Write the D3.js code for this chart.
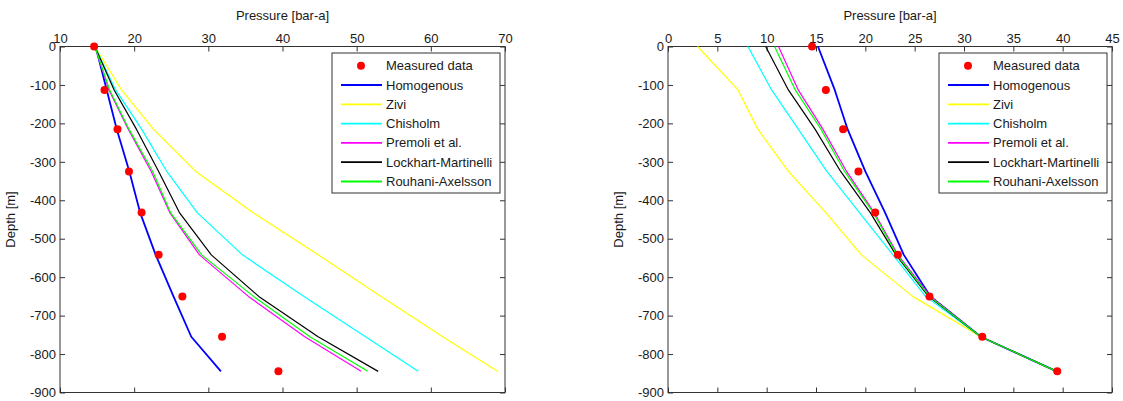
<!DOCTYPE html>
<html><head><meta charset="utf-8">
<script src="https://cdn.jsdelivr.net/npm/d3@7"></script>
<style>
html,body{margin:0;padding:0;background:#fff;}
svg{display:block;font-family:"Liberation Sans",Arial,sans-serif;}
</style></head>
<body><svg id="c" width="1123" height="401"></svg>
<script>
// ---- data ----
const depths = [0, -113, -215, -325, -432, -542, -650, -755, -845];
const seriesNames = ["Homogenous","Zivi","Chisholm","Premoli et al.","Lockhart-Martinelli","Rouhani-Axelsson"];
const seriesColors = ["#0000ff","#ffff00","#00ffff","#ff00ff","#000000","#00ff00"];
const measured = [14.6, 16.0, 17.75, 19.3, 21.0, 23.3, 26.5, 31.85, 39.45];

// left panel model pressures
const leftHomogenous = [14.8, 16.3, 17.65, 19.35, 20.8, 22.9, 25.3, 27.7, 31.7];
const leftZivi       = [14.7, 18.3, 22.6, 28.3, 36.0, 44.8, 53.3, 61.6, 69.0];
const leftChisholm   = [14.7, 17.5, 21.0, 24.4, 28.5, 34.6, 42.9, 51.2, 58.3];
const leftPremoli    = [14.7, 16.6, 19.2, 22.3, 24.8, 28.8, 35.4, 43.0, 50.6];
const leftLockhart   = [14.7, 17.3, 20.3, 23.3, 26.1, 30.4, 36.8, 44.8, 52.9];
const leftRouhani    = [14.7, 16.7, 19.3, 22.5, 24.9, 29.1, 36.1, 43.7, 51.5];

// right panel model pressures
const rightHomogenous = [15.2, 16.9, 18.2, 20.0, 22.0, 23.9, 26.6, 31.7, 39.4];
const rightZivi       = [3.0, 7.1, 9.1, 12.2, 16.0, 19.6, 24.8, 31.7, 39.4];
const rightChisholm   = [8.1, 10.5, 13.2, 16.1, 19.4, 22.8, 26.1, 31.7, 39.4];
const rightPremoli    = [11.2, 13.2, 15.7, 18.1, 20.9, 23.3, 26.6, 31.7, 39.4];
const rightLockhart   = [9.9, 12.2, 14.9, 17.5, 20.5, 23.1, 26.4, 31.7, 39.4];
const rightRouhani    = [10.8, 12.9, 15.5, 17.9, 20.8, 23.2, 26.5, 31.7, 39.4];

const leftXTicks = [10,20,30,40,50,60,70];
const rightXTicks = [0,5,10,15,20,25,30,35,40,45];
const yTicks = [0,-100,-200,-300,-400,-500,-600,-700,-800,-900];
const xTitle = "Pressure [bar-a]";
const yTitle = "Depth [m]";

const svg = d3.select("#c");
const FS = "13px";
const txtCol = "#1a1a1a";

function panel(cfg){
  const {x0,x1,y0,y1,xDomain,xTicks,series} = cfg;
  const x = d3.scaleLinear().domain(xDomain).range([x0,x1]);
  const y = d3.scaleLinear().domain([0,-900]).range([y0,y1]);
  const g = svg.append("g");
  const fmt = d => String(d);
  const top = g.append("g").attr("transform",`translate(0,${y0})`)
    .call(d3.axisTop(x).tickValues(xTicks).tickFormat(fmt).tickSizeInner(-5).tickSizeOuter(0).tickPadding(4));
  const bot = g.append("g").attr("transform",`translate(0,${y1})`)
    .call(d3.axisBottom(x).tickValues(xTicks).tickFormat("").tickSizeInner(-5).tickSizeOuter(0));
  const lft = g.append("g").attr("transform",`translate(${x0},0)`)
    .call(d3.axisLeft(y).tickValues(yTicks).tickFormat(fmt).tickSizeInner(-5).tickSizeOuter(0).tickPadding(4));
  const rgt = g.append("g").attr("transform",`translate(${x1},0)`)
    .call(d3.axisRight(y).tickValues(yTicks).tickFormat("").tickSizeInner(-5).tickSizeOuter(0));
  [top,bot,lft,rgt].forEach(a=>{
    a.select(".domain").remove();
    a.selectAll("line").attr("stroke","#333");
    a.selectAll("text").attr("fill",txtCol).style("font-size",FS).style("font-family","'Liberation Sans',Arial,sans-serif");
  });
  g.append("rect").attr("x",x0).attr("y",y0).attr("width",x1-x0).attr("height",y1-y0)
    .attr("fill","none").attr("stroke","#333").attr("stroke-width",1);
  g.append("text").attr("x",(x0+x1)/2).attr("y",20).attr("text-anchor","middle")
    .attr("fill",txtCol).style("font-size",FS).text(xTitle);
  g.append("text").attr("transform",`translate(${x0-45},${(y0+y1)/2}) rotate(-90)`)
    .attr("text-anchor","middle").attr("fill",txtCol).style("font-size",FS).text(yTitle);
  const line = d3.line().x(d=>x(d[0])).y(d=>y(d[1]));
  series.forEach((s,i)=>{
    g.append("path").datum(s.map((p,j)=>[p,depths[j]]))
      .attr("d",line).attr("fill","none").attr("stroke",seriesColors[i])
      .attr("stroke-width", i===0?1.8:1.2).attr("stroke-linejoin","round");
  });
  g.selectAll(".m").data(measured).enter().append("circle")
    .attr("cx",d=>x(d)).attr("cy",(d,j)=>y(depths[j])).attr("r",4).attr("fill","#ff0000");
  // legend (positioned in data units of the panel's x axis)
  const u = (x1-x0)/(xDomain[1]-xDomain[0]);
  const lx = x1 - 5 - 168, ly = 53, lw = 168, lh = 140;
  const lg = g.append("g");
  lg.append("rect").attr("x",lx).attr("y",ly).attr("width",lw).attr("height",lh)
    .attr("fill","#fff").attr("stroke","#333");
  const rowY = i => ly + 12.7 + i*19.3;
  lg.append("circle").attr("cx",lx+29).attr("cy",rowY(0)).attr("r",4).attr("fill","#ff0000");
  lg.append("text").attr("x",lx+54).attr("y",rowY(0)).attr("dy","0.35em")
    .attr("fill",txtCol).style("font-size",FS).text("Measured data");
  seriesNames.forEach((n,i)=>{
    lg.append("line").attr("x1",lx+9).attr("x2",lx+50).attr("y1",rowY(i+1)).attr("y2",rowY(i+1))
      .attr("stroke",seriesColors[i]).attr("stroke-width",1.8);
    lg.append("text").attr("x",lx+54).attr("y",rowY(i+1)).attr("dy","0.35em")
      .attr("fill",txtCol).style("font-size",FS).text(n);
  });
}

panel({x0:60,x1:505,y0:46.5,y1:392.5,xDomain:[10,70],xTicks:leftXTicks,
  series:[leftHomogenous,leftZivi,leftChisholm,leftPremoli,leftLockhart,leftRouhani]});
panel({x0:668,x1:1112,y0:46.5,y1:392.5,xDomain:[0,45],xTicks:rightXTicks,
  series:[rightHomogenous,rightZivi,rightChisholm,rightPremoli,rightLockhart,rightRouhani]});
</script></body></html>
